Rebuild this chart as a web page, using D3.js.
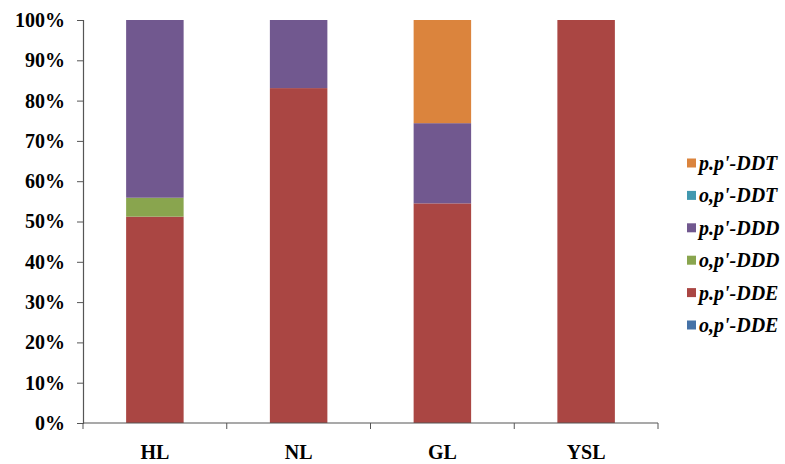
<!DOCTYPE html>
<html>
<head>
<meta charset="utf-8">
<script src="https://cdn.jsdelivr.net/npm/d3@7"></script>
<style>
  html, body { margin: 0; padding: 0; background: #fff; }
  svg { display: block; }
  text { font-family: "Liberation Serif", "Times New Roman", serif; font-weight: bold; fill: #000; }
</style>
</head>
<body>
<svg id="chart" width="785" height="464"></svg>
<script>
// Sites along the x axis
const sites = ["HL", "NL", "GL", "YSL"];

// Compound names, bottom of the stack first
const compounds = ["o,p'-DDE", "p.p'-DDE", "o,p'-DDD", "p.p'-DDD", "o,p'-DDT", "p.p'-DDT"];

// Share of each compound (%) per site, in the order of `sites`
const opDDE = [0, 0, 0, 0];
const ppDDE = [51.2, 83.1, 54.5, 100];
const opDDD = [4.7, 0, 0, 0];
const ppDDD = [44.1, 16.9, 19.9, 0];
const opDDT = [0, 0, 0, 0];
const ppDDT = [0, 0, 25.6, 0];

const yTicks = [0, 10, 20, 30, 40, 50, 60, 70, 80, 90, 100];

const colors = ["#4572A7", "#AA4643", "#89A54E", "#71588F", "#4198AF", "#DB843D"];

const seriesValues = [opDDE, ppDDE, opDDD, ppDDD, opDDT, ppDDT];
const rows = sites.map((s, i) => {
  const r = { site: s };
  compounds.forEach((c, k) => { r[c] = seriesValues[k][i]; });
  return r;
});

const svg = d3.select("#chart");
const margin = { left: 83, right: 127, top: 20, bottom: 41 };
const W = 785, H = 464;

const x = d3.scaleBand().domain(sites).range([margin.left, W - margin.right]).paddingInner(0).paddingOuter(0);
const y = d3.scaleLinear().domain([0, 100]).range([H - margin.bottom, margin.top]);
const color = d3.scaleOrdinal().domain(compounds).range(colors);

const stacked = d3.stack().keys(compounds)(rows);
const barW = x.bandwidth() * 0.4;

svg.append("g")
  .selectAll("g")
  .data(stacked)
  .join("g")
  .attr("fill", d => color(d.key))
  .selectAll("rect")
  .data(d => d)
  .join("rect")
  .attr("x", d => x(d.data.site) + (x.bandwidth() - barW) / 2)
  .attr("width", barW)
  .attr("y", d => y(d[1]))
  .attr("height", d => y(d[0]) - y(d[1]));

// Y axis
const yAxis = svg.append("g")
  .attr("transform", `translate(${margin.left},0)`)
  .call(d3.axisLeft(y).tickValues(yTicks).tickFormat(d => d + "%").tickSize(6).tickPadding(12));
yAxis.select(".domain").attr("stroke", "#555").attr("stroke-width", 1.2);
yAxis.selectAll(".tick line").attr("stroke", "#555");
yAxis.selectAll(".tick text").style("font-size", "20px").attr("fill", "#000");

// X axis with tick marks at category boundaries
const xAxisG = svg.append("g").attr("transform", `translate(0,${H - margin.bottom})`);
xAxisG.append("line")
  .attr("x1", margin.left).attr("x2", W - margin.right)
  .attr("stroke", "#555").attr("stroke-width", 1.2);
const bounds = sites.map(s => x(s)).concat([x(sites[sites.length - 1]) + x.bandwidth()]);
xAxisG.selectAll("line.tk")
  .data(bounds)
  .join("line")
  .attr("class", "tk")
  .attr("x1", d => d).attr("x2", d => d)
  .attr("y1", 0).attr("y2", 6)
  .attr("stroke", "#555");
xAxisG.selectAll("text")
  .data(sites)
  .join("text")
  .attr("x", d => x(d) + x.bandwidth() / 2)
  .attr("y", 36)
  .attr("text-anchor", "middle")
  .style("font-size", "20px")
  .text(d => d);

// Legend, top entry is the top of the stack
const legendItems = compounds.slice().reverse();
const lg = svg.append("g").attr("transform", "translate(687,163)");
const item = lg.selectAll("g")
  .data(legendItems)
  .join("g")
  .attr("transform", (d, i) => `translate(0,${i * 32.4})`);
item.append("rect")
  .attr("x", 0).attr("y", -4.5)
  .attr("width", 9).attr("height", 9)
  .attr("fill", d => color(d));
item.append("text")
  .attr("x", 12)
  .attr("y", 0)
  .attr("dy", "0.35em")
  .style("font-size", "20px")
  .style("font-style", "italic")
  .text(d => d);
</script>
</body>
</html>
